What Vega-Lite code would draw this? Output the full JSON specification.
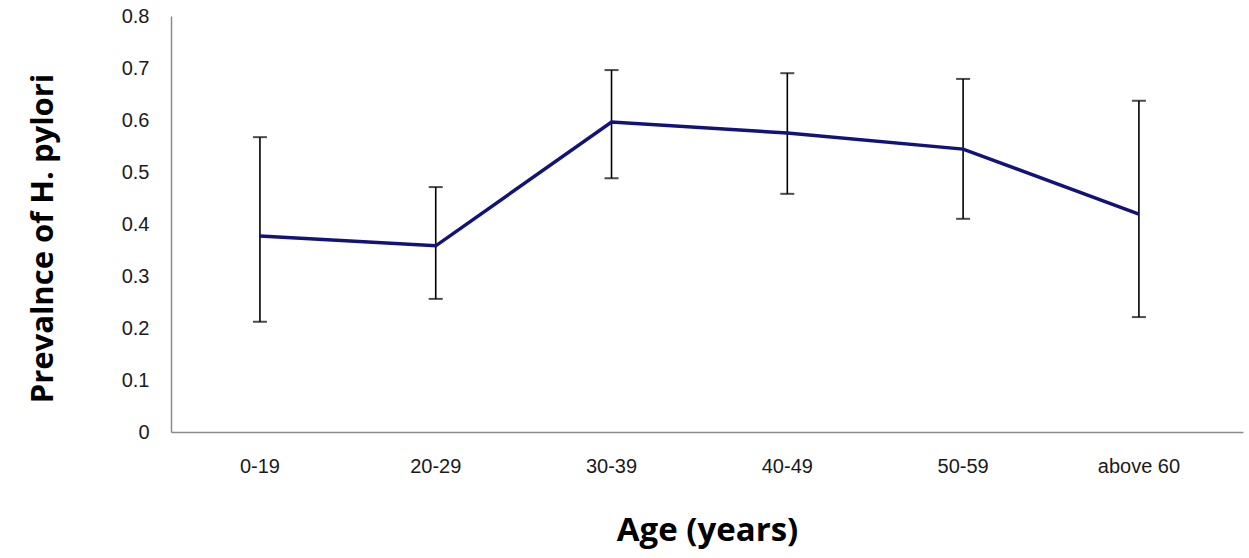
{
  "$schema": "https://vega.github.io/schema/vega-lite/v6.json",
  "autosize": "none",
  "width": 1072,
  "height": 416,
  "padding": {"left": 171, "top": 16, "right": 6, "bottom": 126},
  "background": "white",
  "data": {"values": [
    {"age": "0-19", "p": 0.377, "lo": 0.212, "hi": 0.567},
    {"age": "20-29", "p": 0.358, "lo": 0.256, "hi": 0.471},
    {"age": "30-39", "p": 0.596, "lo": 0.488, "hi": 0.696},
    {"age": "40-49", "p": 0.575, "lo": 0.458, "hi": 0.690},
    {"age": "50-59", "p": 0.544, "lo": 0.410, "hi": 0.679},
    {"age": "above 60", "p": 0.419, "lo": 0.221, "hi": 0.637}
  ]},
  "config": {
    "view": {"stroke": null},
    "axis": {"grid": false, "ticks": false, "domainColor": "#8c8c8c", "domainWidth": 1.5,
             "labelFont": "Liberation Sans", "labelFontSize": 20, "labelColor": "#1a1a1a",
             "titleFont": "Open Sans", "titleFontWeight": "bold", "titleColor": "#000"}
  },
  "encoding": {
    "x": {"field": "age", "type": "nominal", "sort": null,
          "scale": {"paddingInner": 0, "paddingOuter": 0.049, "align": 0.06},
          "axis": {"title": "Age (years)", "titleFontSize": 33, "labelAngle": 0, "labelPadding": 24, "titlePadding": 38}}
  },
  "layer": [
    {"mark": {"type": "rule", "color": "#000", "strokeWidth": 1.6},
     "encoding": {"y": {"field": "lo", "type": "quantitative"}, "y2": {"field": "hi"}}},
    {"mark": {"type": "tick", "color": "#000", "thickness": 2, "size": 14},
     "encoding": {"y": {"field": "lo", "type": "quantitative"}}},
    {"mark": {"type": "tick", "color": "#000", "thickness": 2, "size": 14},
     "encoding": {"y": {"field": "hi", "type": "quantitative"}}},
    {"mark": {"type": "line", "color": "#12127a", "strokeWidth": 3.5},
     "encoding": {"y": {"field": "p", "type": "quantitative",
        "scale": {"domain": [0, 0.8], "nice": false},
        "axis": {"title": "Prevalnce of H. pylori", "titleFontSize": 31, "titleY": 222, "values": [0,0.1,0.2,0.3,0.4,0.5,0.6,0.7,0.8],
                 "labelExpr": "datum.value == 0 ? '0' : format(datum.value, '.1f')",
                 "labelPadding": 22, "titlePadding": 62}}}}
  ]
}
